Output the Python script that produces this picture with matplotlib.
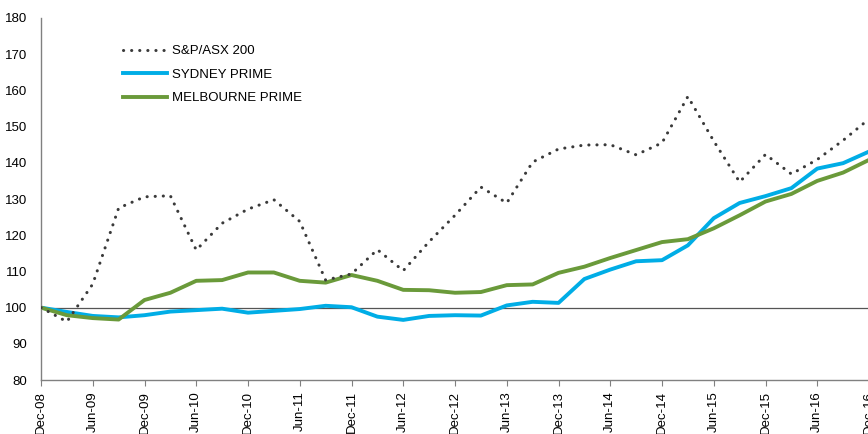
import matplotlib
matplotlib.use("Agg")
import matplotlib.pyplot as plt

plt.rcParams['font.family'] = ['Liberation Sans', 'DejaVu Sans']

tick_labels = ["Dec-08", "Jun-09", "Dec-09", "Jun-10", "Dec-10", "Jun-11", "Dec-11", "Jun-12",
               "Dec-12", "Jun-13", "Dec-13", "Jun-14", "Dec-14", "Jun-15", "Dec-15", "Jun-16", "Dec-16"]

asx200 = [100, 96.1, 106.5, 127.5, 130.6, 130.9, 115.9, 123.3, 127.2, 129.8, 123.8, 107.6, 109.3,
          116.0, 110.2, 118.2, 125.5, 133.3, 128.9, 140.2, 143.8, 144.9, 145.0, 142.2, 145.5,
          158.3, 146.0, 134.7, 142.3, 136.9, 140.9, 146.2, 152.1]
sydney = [100, 98.8, 97.7, 97.3, 97.9, 98.9, 99.3, 99.7, 98.6, 99.1, 99.6, 100.5, 100.1,
          97.5, 96.6, 97.7, 97.9, 97.8, 100.6, 101.6, 101.3, 107.9, 110.5, 112.8, 113.1,
          117.2, 124.7, 128.9, 130.8, 133.0, 138.4, 139.9, 143.1]
melbourne = [100, 97.9, 97.1, 96.7, 102.1, 104.1, 107.4, 107.6, 109.7, 109.7, 107.4, 106.9, 109.0,
             107.4, 104.9, 104.8, 104.1, 104.3, 106.2, 106.4, 109.6, 111.3, 113.7, 115.9, 118.1,
             118.9, 121.9, 125.5, 129.3, 131.4, 135.0, 137.3, 140.8]

fig = plt.figure(figsize=(8.68, 4.34), dpi=100)
ax = fig.add_axes([41/868, 1-380/434, 828/868, 362/434])

x = list(range(len(asx200)))
ax.axhline(100, color="#555555", lw=0.9, zorder=1)
ax.plot(x, asx200, color="#3a3a3a", lw=2.2, linestyle=(0, (0.05, 2.6)),
        dash_capstyle="round", solid_capstyle="round", label="S&P/ASX 200", zorder=3)
ax.plot(x, sydney, color="#00ADE6", lw=2.8, label="SYDNEY PRIME", zorder=2)
ax.plot(x, melbourne, color="#6A9A3A", lw=2.8, label="MELBOURNE PRIME", zorder=2)

ax.set_xlim(0, 32)
ax.set_ylim(80, 180)
ax.set_yticks(range(80, 181, 10))
ax.set_xticks(range(0, 33, 2))
ax.set_xticklabels(tick_labels, rotation=90)
ax.tick_params(axis="y", length=0, pad=10, labelsize=9.5)
ax.tick_params(axis="x", length=4, width=0.8, color="#808080", pad=4, labelsize=9.5)
for s in ["top", "right"]:
    ax.spines[s].set_visible(False)
for s in ["left", "bottom"]:
    ax.spines[s].set_color("#808080")
    ax.spines[s].set_linewidth(1.0)

leg = ax.legend(loc="upper left", bbox_to_anchor=(0.085, 0.958), frameon=False,
                fontsize=9.5, handlelength=3.3, handletextpad=0.4, labelspacing=0.85)

fig.savefig("out.png", dpi=100)
